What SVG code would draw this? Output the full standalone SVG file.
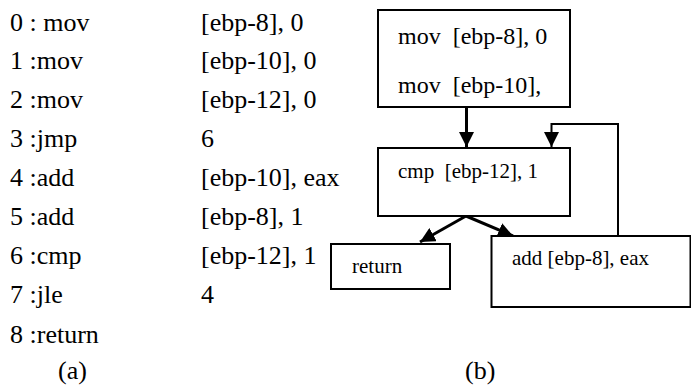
<svg xmlns="http://www.w3.org/2000/svg" width="691" height="385" viewBox="0 0 691 385">
<defs>
<marker id="ah" viewBox="0 0 10 10" refX="10" refY="5" markerWidth="15" markerHeight="15" markerUnits="userSpaceOnUse" orient="auto">
<path d="M0,0 L10,5 L0,10 z" fill="#000"/>
</marker>
</defs>
<style>
.box{fill:#fff;stroke:#000;stroke-width:2}
.ln{fill:none;stroke:#000;stroke-width:3}
.thin{stroke-width:2}
</style>
<g id="listing" font-family="Liberation Serif, Times New Roman, serif" font-size="26" fill="#000">
<text x="10" y="31" xml:space="preserve">0 : mov</text><text x="201" y="31">[ebp-8], 0</text>
<text x="10" y="69">1 :mov</text><text x="201" y="69">[ebp-10], 0</text>
<text x="10" y="108">2 :mov</text><text x="201" y="108">[ebp-12], 0</text>
<text x="10" y="147">3 :jmp</text><text x="201" y="147">6</text>
<text x="10" y="186">4 :add</text><text x="201" y="186">[ebp-10], eax</text>
<text x="10" y="225">5 :add</text><text x="201" y="225">[ebp-8], 1</text>
<text x="10" y="264">6 :cmp</text><text x="201" y="264">[ebp-12], 1</text>
<text x="10" y="303">7 :jle</text><text x="201" y="303">4</text>
<text x="10" y="343">8 :return</text>
<text x="58" y="379">(a)</text>
<text x="465" y="379">(b)</text>
</g>
<g id="connectors">
<path class="ln" d="M466.5,107 V147" marker-end="url(#ah)"/>
<path class="ln thin" d="M618,236 V124 H551.5 V147" marker-end="url(#ah)"/>
<path class="ln" d="M466,216 L420,242" marker-end="url(#ah)"/>
<path class="ln" d="M466,216 L513,236" marker-end="url(#ah)"/>
</g>
<g id="n1" font-family="Liberation Serif, Times New Roman, serif" font-size="24" fill="#000"><rect class="box" x="378" y="10" width="192" height="97"/>
<text x="398" y="44" xml:space="preserve">mov  [ebp-8], 0</text><text x="398" y="93" xml:space="preserve">mov  [ebp-10],</text></g>
<g id="n2" font-family="Liberation Serif, Times New Roman, serif" font-size="21" fill="#000"><rect class="box" x="378" y="148" width="192" height="68"/>
<text x="398" y="178" xml:space="preserve">cmp  [ebp-12], 1</text></g>
<g id="n3" font-family="Liberation Serif, Times New Roman, serif" font-size="21" fill="#000"><rect class="box" x="331" y="244" width="119" height="45"/>
<text x="352" y="273">return</text></g>
<g id="n4" font-family="Liberation Serif, Times New Roman, serif" font-size="21" fill="#000"><rect class="box" x="491.5" y="236" width="199" height="71"/>
<text x="512" y="265">add [ebp-8], eax</text></g>
</svg>
